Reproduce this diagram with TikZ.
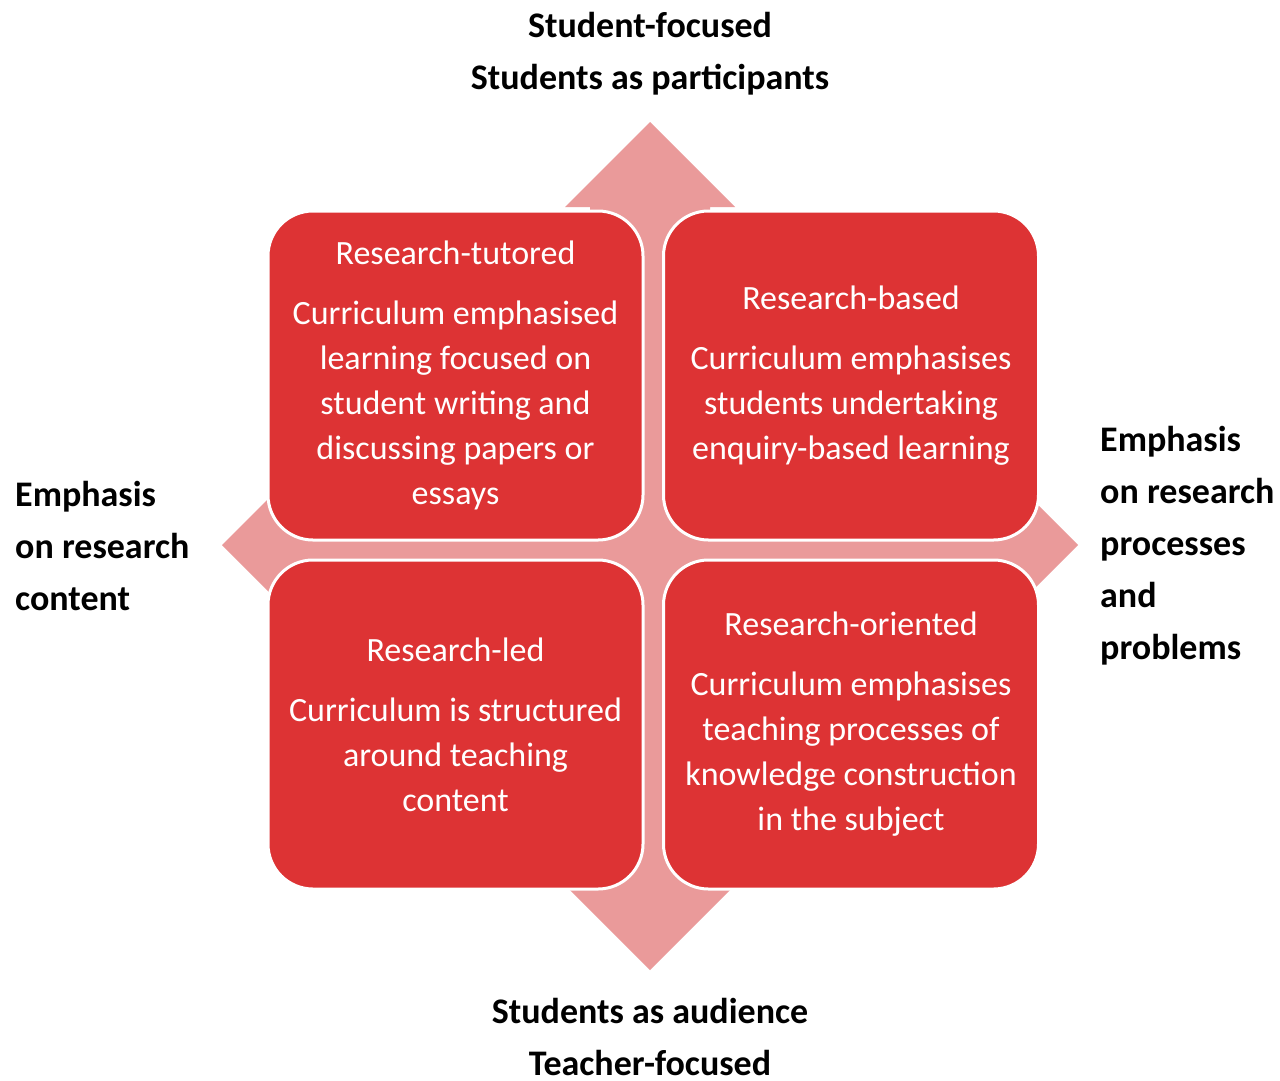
\documentclass[tikz,border=0pt]{standalone}
\usepackage{fontspec}
\setmainfont{Carlito}
\definecolor{boxred}{RGB}{221,51,52}
\definecolor{arrowpink}{RGB}{234,154,154}
\tikzset{
  quad/.style={draw=white, line width=3pt, fill=boxred, rounded corners=45pt,
    minimum width=375pt, minimum height=329pt, inner sep=0pt, text=white,
    align=center, font=\fontsize{34}{45}\selectfont},
  outer/.style={inner sep=0pt, font=\bfseries\fontsize{36}{52}\selectfont, text=black},
}
\begin{document}
\begin{tikzpicture}[x=1pt,y=-1pt]
\useasboundingbox (0,0) rectangle (1280,1080);
\fill[white] (0,0) rectangle (1280,1080);
% four-way arrow background
\def\A{60}
\fill[arrowpink]
  (650,122) -- (735,207) -- (650+\A,207) -- (650+\A,545-\A) -- (993,545-\A) -- (993,460)
  -- (1078,545) -- (993,630) -- (993,545+\A) -- (650+\A,545+\A) -- (650+\A,885) -- (735,885)
  -- (650,970) -- (565,885) -- (650-\A,885) -- (650-\A,545+\A) -- (307,545+\A) -- (307,630)
  -- (222,545) -- (307,460) -- (307,545-\A) -- (650-\A,545-\A) -- (650-\A,207) -- (565,207) -- cycle;
% quadrants
\node[quad] (tl) at (455.5,375.5) {Research-tutored\\[15pt]Curriculum emphasised\\learning focused on\\student writing and\\discussing papers or\\essays};
\node[quad] (tr) at (851,375.5) {Research-based\\[15pt]Curriculum emphasises\\students undertaking\\enquiry-based learning};
\node[quad] (bl) at (455.5,724.5) {Research-led\\[15pt]Curriculum is structured\\around teaching\\content};
\node[quad] (br) at (851,724.5) {Research-oriented\\[15pt]Curriculum emphasises\\teaching processes of\\knowledge construction\\in the subject};
% axis labels
\node[outer, align=center] (top) at (650,54) {Student-focused\\Students as participants};
\node[outer, align=center] (bottom) at (650,1037) {Students as audience\\Teacher-focused};
\node[outer, align=left, anchor=west] (left) at (15,546) {Emphasis\\on research\\content};
\node[outer, align=left, anchor=west] (right) at (1100,546) {Emphasis\\on research\\processes\\and\\problems};
\end{tikzpicture}
\end{document}
